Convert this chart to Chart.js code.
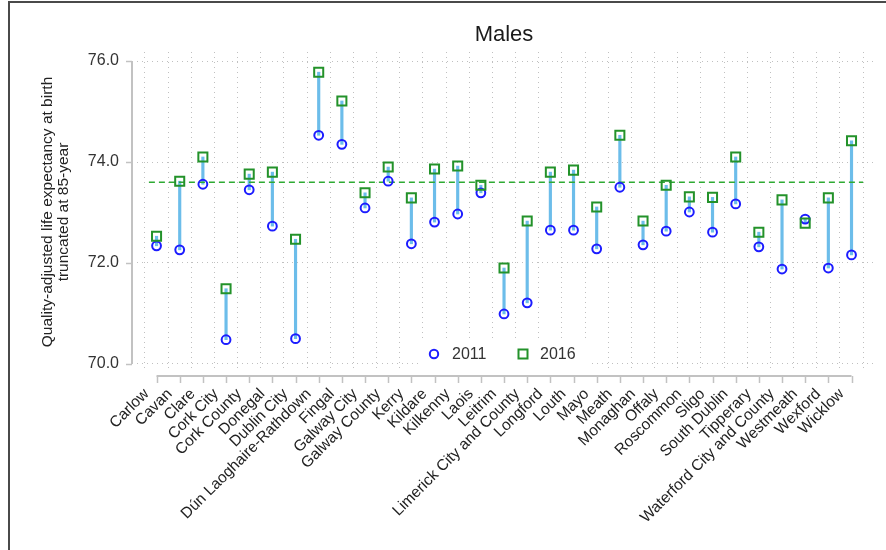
<!DOCTYPE html>
<html>
<head>
<meta charset="utf-8">
<script src="https://cdn.jsdelivr.net/npm/chart.js@4/dist/chart.umd.min.js"></script>
<style>
  html, body { margin: 0; padding: 0; background: #fff; }
  #wrap { position: relative; width: 886px; height: 550px; }
  canvas { display: block; }
</style>
</head>
<body>
<div id="wrap"><canvas id="chart" width="886" height="550"></canvas></div>
<script>
// Local authority areas, in alphabetical order
const counties = [
  'Carlow', 'Cavan', 'Clare', 'Cork City', 'Cork County', 'Donegal', 'Dublin City',
  'Dún Laoghaire-Rathdown', 'Fingal', 'Galway City', 'Galway County', 'Kerry', 'Kildare',
  'Kilkenny', 'Laois', 'Leitrim', 'Limerick City and County', 'Longford', 'Louth', 'Mayo',
  'Meath', 'Monaghan', 'Offaly', 'Roscommon', 'Sligo', 'South Dublin', 'Tipperary',
  'Waterford City and County', 'Westmeath', 'Wexford', 'Wicklow'
];

// Male quality-adjusted life expectancy at birth (truncated at 85 years)
const qale2011 = [
  72.34, 72.26, 73.56, 70.48, 73.45, 72.73, 70.50,
  74.53, 74.35, 73.09, 73.62, 72.38, 72.81,
  72.97, 73.39, 70.99, 71.21, 72.65, 72.65, 72.28,
  73.50, 72.36, 72.63, 73.01, 72.61, 73.17, 72.32,
  71.88, 72.87, 71.90, 72.16
];
const qale2016 = [
  72.53, 73.62, 74.10, 71.49, 73.76, 73.80, 72.47,
  75.78, 75.21, 73.39, 73.90, 73.29, 73.86,
  73.92, 73.54, 71.90, 72.83, 73.80, 73.84, 73.11,
  74.53, 72.83, 73.54, 73.31, 73.30, 74.10, 72.61,
  73.25, 72.79, 73.29, 74.42
];

// National average for 2016
const nationalAverage = 73.60;

const yTicks = [70, 72, 74, 76];
const seriesNames = ['2011', '2016'];
const chartTitle = 'Males';
const yTitle = ['Quality-adjusted life expectancy at birth', 'truncated at 85-year'];

const FONT = '"Liberation Sans", Arial, Helvetica, sans-serif';
const COL_2011 = '#1c1cff';
const COL_2016 = '#23922a';
const COL_LINK = '#6cbdea';
const COL_MEAN = '#2eaa33';
const COL_AXIS = '#c2c2c2';
const COL_GRID = '#c0c0c0';

const xMin = -0.33, xMax = 30.5;
const yMin = 69.84, yMax = 76.18;

// Frame, axis lines, title and in-plot legend
const decorations = {
  id: 'decorations',
  afterDraw(chart) {
    const { ctx, chartArea: a, scales: { x, y } } = chart;
    ctx.save();

    // outer frame (top and left edges)
    ctx.strokeStyle = '#4a4a4a';
    ctx.lineWidth = 2;
    ctx.beginPath();
    ctx.moveTo(9, 550);
    ctx.lineTo(9, 2);
    ctx.lineTo(886, 2);
    ctx.stroke();

    // y axis line with outward ticks
    const yAxisX = a.left - 5;
    ctx.strokeStyle = COL_AXIS;
    ctx.lineWidth = 2;
    ctx.beginPath();
    ctx.moveTo(yAxisX, y.getPixelForValue(yTicks[yTicks.length - 1]));
    ctx.lineTo(yAxisX, y.getPixelForValue(yTicks[0]));
    ctx.stroke();
    ctx.lineWidth = 1.5;
    yTicks.forEach(v => {
      const py = Math.round(y.getPixelForValue(v)) + 0.5;
      ctx.beginPath();
      ctx.moveTo(yAxisX - 6, py);
      ctx.lineTo(yAxisX, py);
      ctx.stroke();
    });

    // x axis line with outward ticks
    const xAxisY = a.bottom + 4;
    ctx.lineWidth = 2;
    ctx.beginPath();
    ctx.moveTo(x.getPixelForValue(0), xAxisY);
    ctx.lineTo(x.getPixelForValue(counties.length - 1), xAxisY);
    ctx.stroke();
    ctx.lineWidth = 1.5;
    counties.forEach((_, i) => {
      const px = Math.round(x.getPixelForValue(i)) + 0.5;
      ctx.beginPath();
      ctx.moveTo(px, xAxisY);
      ctx.lineTo(px, xAxisY + 7);
      ctx.stroke();
    });

    // title
    ctx.fillStyle = '#1a1a1a';
    ctx.font = '22px ' + FONT;
    ctx.textAlign = 'center';
    ctx.textBaseline = 'alphabetic';
    ctx.fillText(chartTitle, (a.left + a.right) / 2 - 2, 41);

    // legend inside the plot, bottom centre
    const cx = (a.left + a.right) / 2;
    ctx.fillStyle = '#fff';
    ctx.fillRect(cx - 88, a.bottom - 33, 170, 31);
    const ly = a.bottom - 18;
    ctx.lineWidth = 2;
    ctx.strokeStyle = COL_2011;
    ctx.beginPath();
    ctx.arc(cx - 72, ly, 4.2, 0, Math.PI * 2);
    ctx.stroke();
    ctx.strokeStyle = COL_2016;
    ctx.strokeRect(cx + 17 - 4.5, ly - 4.5, 9, 9);
    ctx.fillStyle = '#333';
    ctx.font = '16px ' + FONT;
    ctx.textAlign = 'left';
    ctx.textBaseline = 'middle';
    ctx.fillText(seriesNames[0], cx - 54, ly + 1);
    ctx.fillText(seriesNames[1], cx + 34, ly + 1);

    ctx.restore();
  }
};

new Chart(document.getElementById('chart'), {
  type: 'bar',
  data: {
    datasets: [
      {
        type: 'bar',
        label: 'change',
        data: counties.map((_, i) => ({ x: i, y: [qale2011[i], qale2016[i]] })),
        backgroundColor: COL_LINK,
        borderWidth: 0,
        barThickness: 2.5,
        grouped: false,
        order: 4
      },
      {
        type: 'line',
        label: 'average',
        data: [{ x: xMin, y: nationalAverage }, { x: xMax, y: nationalAverage }],
        borderColor: COL_MEAN,
        borderWidth: 1.6,
        borderDash: [6, 4],
        pointRadius: 0,
        order: 3
      },
      {
        type: 'line',
        label: seriesNames[0],
        data: counties.map((_, i) => ({ x: i, y: qale2011[i] })),
        showLine: false,
        pointStyle: 'circle',
        pointRadius: 4.4,
        pointBorderWidth: 2,
        pointBorderColor: COL_2011,
        pointBackgroundColor: 'rgba(0,0,0,0)',
        order: 2
      },
      {
        type: 'line',
        label: seriesNames[1],
        data: counties.map((_, i) => ({ x: i, y: qale2016[i] })),
        showLine: false,
        pointStyle: 'rect',
        pointRadius: 6.4,
        pointBorderWidth: 2,
        pointBorderColor: COL_2016,
        pointBackgroundColor: 'rgba(0,0,0,0)',
        order: 1
      }
    ]
  },
  options: {
    responsive: false,
    animation: false,
    devicePixelRatio: 1,
    layout: { padding: { top: 52, right: 11, left: 0, bottom: 0 } },
    plugins: { legend: { display: false }, tooltip: { enabled: false }, title: { display: false } },
    scales: {
      x: {
        type: 'linear',
        min: xMin,
        max: xMax,
        afterBuildTicks: s => { s.ticks = counties.map((_, i) => ({ value: i })); },
        afterFit: s => { s.height = 178; },
        ticks: {
          autoSkip: false,
          minRotation: 45,
          maxRotation: 45,
          padding: 13,
          labelOffset: -10,
          color: '#222',
          font: { family: FONT, size: 15.5 },
          callback: v => counties[v]
        },
        grid: { color: COL_GRID, lineWidth: 1, drawTicks: false },
        border: { display: false, dash: [1, 4] }
      },
      y: {
        type: 'linear',
        min: yMin,
        max: yMax,
        afterBuildTicks: s => { s.ticks = yTicks.map(v => ({ value: v })); },
        afterFit: s => { s.width = 137; },
        ticks: {
          padding: 18,
          color: '#333',
          font: { family: FONT, size: 16 },
          callback: v => Number(v).toFixed(1)
        },
        grid: { color: COL_GRID, lineWidth: 1, drawTicks: false },
        border: { display: false, dash: [1, 4] },
        title: {
          display: true,
          text: yTitle,
          color: '#222',
          font: { family: FONT, size: 15.5, lineHeight: '16px' },
          padding: { top: 40, bottom: 0 }
        }
      }
    }
  },
  plugins: [decorations]
});
</script>
</body>
</html>
